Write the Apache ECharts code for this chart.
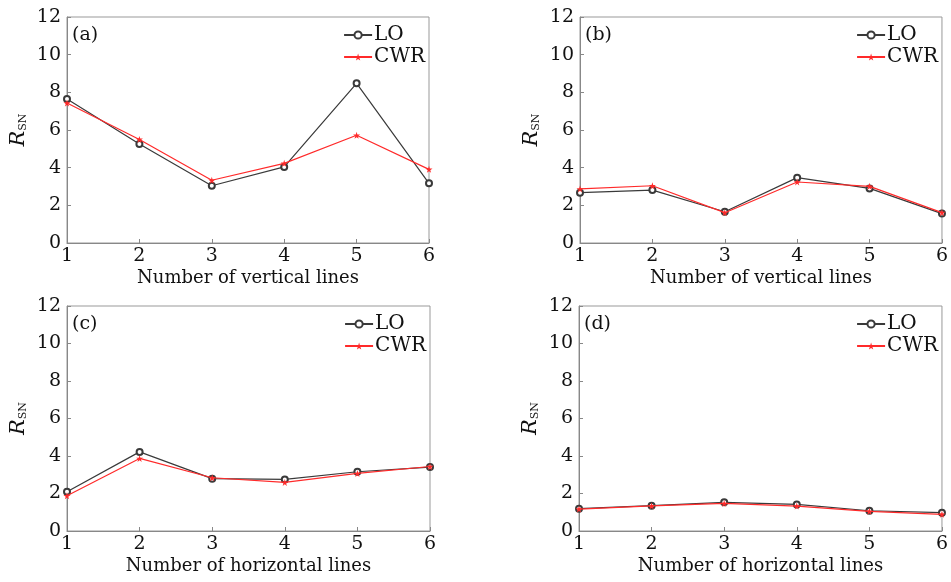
<!DOCTYPE html>
<html>
<head>
<meta charset="utf-8">
<script src="https://cdn.jsdelivr.net/npm/echarts@6/dist/echarts.min.js"></script>
<style>
  html, body { margin: 0; padding: 0; background: #fff; }
  #chart { width: 951px; height: 582px; }
</style>
</head>
<body>
<div id="chart"></div>
<script>
// values
var xTicks = [1, 2, 3, 4, 5, 6];
var panelLabels = ['(a)', '(b)', '(c)', '(d)'];
var xNames = ['Number of vertical lines', 'Number of vertical lines', 'Number of horizontal lines', 'Number of horizontal lines'];
var loA = [7.65, 5.26, 3.04, 4.04, 8.48, 3.17];
var cwrA = [7.43, 5.50, 3.33, 4.23, 5.72, 3.91];
var loB = [2.67, 2.81, 1.66, 3.47, 2.90, 1.56];
var cwrB = [2.87, 3.04, 1.61, 3.24, 3.01, 1.61];
var loC = [2.09, 4.22, 2.79, 2.75, 3.16, 3.41];
var cwrC = [1.88, 3.87, 2.84, 2.59, 3.07, 3.44];
var loD = [1.19, 1.35, 1.53, 1.42, 1.08, 0.98];
var cwrD = [1.17, 1.34, 1.47, 1.33, 1.05, 0.89];

var loAll = [loA, loB, loC, loD];
var cwrAll = [cwrA, cwrB, cwrC, cwrD];

var FONT = '"DejaVu Serif", serif';
var star = 'path://M50,0 L61,35 L98,35 L68,57 L79,91 L50,70 L21,91 L32,57 L2,35 L39,35 Z';

// grid boxes, px
var boxes = [
    {left: 67, top: 17, width: 362, height: 226},
    {left: 580, top: 17, width: 362, height: 226},
    {left: 67, top: 306, width: 363, height: 225},
    {left: 579, top: 306, width: 363, height: 225}
];

function pairs(ys) {
    return ys.map(function(v, i) { return [xTicks[i], v]; });
}

var grids = [], xAxes = [], yAxes = [], series = [], legends = [], graphics = [];

boxes.forEach(function(b, i) {
    grids.push({
        left: b.left, top: b.top, width: b.width, height: b.height,
        show: true, borderColor: '#999', borderWidth: 1, backgroundColor: 'transparent'
    });
    xAxes.push({
        gridIndex: i, type: 'value', min: 1, max: 6, interval: 1,
        name: xNames[i], nameLocation: 'middle', nameGap: 26,
        nameTextStyle: {fontFamily: FONT, fontSize: 18, color: '#111'},
        axisLine: {show: true, lineStyle: {color: '#888'}},
        axisTick: {show: true, inside: true, length: 4, lineStyle: {color: '#888'}},
        axisLabel: {fontFamily: FONT, fontSize: 19, color: '#111', margin: 4},
        splitLine: {show: false}
    });
    yAxes.push({
        gridIndex: i, type: 'value', min: 0, max: 12, interval: 2,
        name: '{i|R}{s|SN}', nameLocation: 'middle', nameGap: 38, nameRotate: 90,
        nameTextStyle: {
            rich: {
                i: {fontFamily: FONT, fontStyle: 'italic', fontSize: 21, color: '#111'},
                s: {fontFamily: FONT, fontSize: 11, color: '#111', padding: [10, 0, 0, 0]}
            }
        },
        axisLine: {show: true, lineStyle: {color: '#888'}},
        axisTick: {show: true, inside: true, length: 4, lineStyle: {color: '#888'}},
        axisLabel: {fontFamily: FONT, fontSize: 19, color: '#111', margin: 6},
        splitLine: {show: false}
    });
    series.push({
        name: 'LO', type: 'line', xAxisIndex: i, yAxisIndex: i,
        data: pairs(loAll[i]),
        symbol: 'emptyCircle', symbolSize: 6,
        lineStyle: {color: '#3a3a3a', width: 1.2},
        itemStyle: {color: '#3a3a3a', borderColor: '#3a3a3a', borderWidth: 1},
        z: 3
    });
    series.push({
        name: 'CWR', type: 'line', xAxisIndex: i, yAxisIndex: i,
        data: pairs(cwrAll[i]),
        symbol: star, symbolSize: 7,
        lineStyle: {color: '#ff2a2a', width: 1.2},
        itemStyle: {color: '#ff2a2a'},
        z: 4
    });
    legends.push({
        data: ['LO', 'CWR'], orient: 'vertical',
        right: 951 - (b.left + b.width) - 1, top: b.top + 3,
        itemWidth: 28, itemHeight: 9, itemGap: 2,
        textStyle: {fontFamily: FONT, fontSize: 20, lineHeight: 20, color: '#111', padding: [0, 0, 0, -3]},
        selectedMode: false
    });
    graphics.push({
        type: 'text', left: b.left + 5, top: b.top + 9,
        style: {text: panelLabels[i], fontFamily: FONT, fontSize: 19, fill: '#111'}
    });
});

var chart = echarts.init(document.getElementById('chart'));
chart.setOption({
    animation: false,
    backgroundColor: '#fff',
    grid: grids,
    xAxis: xAxes,
    yAxis: yAxes,
    legend: legends,
    series: series,
    graphic: graphics
});
</script>
</body>
</html>
